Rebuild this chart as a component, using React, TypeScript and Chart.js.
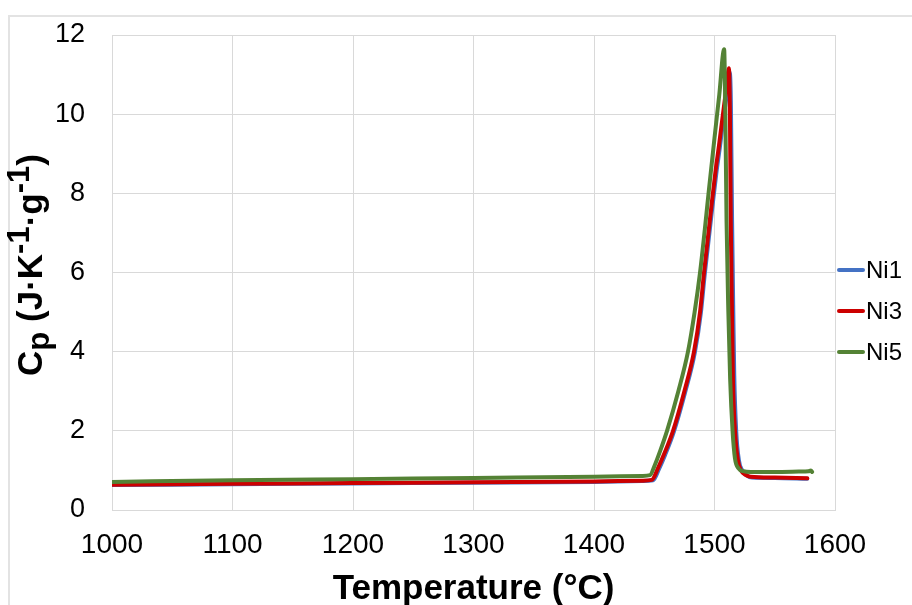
import { useEffect, useRef } from 'react';
import { Chart, registerables } from 'chart.js';

Chart.register(...registerables);

// ---- data ----
const seriesNames = ['Ni1', 'Ni3', 'Ni5'];
const seriesColors = ['#4472C4', '#CC0000', '#548235'];

const xTickValues = [1000, 1100, 1200, 1300, 1400, 1500, 1600];
const yTickValues = [0, 2, 4, 6, 8, 10, 12];

const ni1Temp = [1000, 1100, 1200, 1300, 1400, 1440, 1449, 1454, 1459, 1466.3, 1475.7, 1483.7, 1488.7, 1492, 1498.6, 1501.7, 1504.4, 1507.7, 1510.7, 1512.6, 1513.6, 1514.6, 1515.6, 1516.4, 1518, 1520.3, 1523, 1527, 1531, 1550, 1577];
const ni1Cp = [0.63, 0.65, 0.67, 0.69, 0.71, 0.73, 0.75, 1.04, 1.39, 1.98, 2.98, 3.98, 4.98, 5.98, 7.75, 8.55, 9.15, 9.95, 10.6, 11.05, 10.3, 7.3, 5.0, 3.4, 2.0, 1.25, 1.0, 0.87, 0.82, 0.81, 0.79];

const ni3Temp = [1000, 1100, 1200, 1300, 1400, 1440, 1448, 1453, 1458, 1465.6, 1475, 1483, 1488, 1491.3, 1497.9, 1501, 1503.7, 1507, 1510, 1512, 1512.8, 1513.5, 1514.5, 1515.3, 1517, 1519.5, 1522, 1526, 1530, 1550, 1577];
const ni3Cp = [0.64, 0.66, 0.68, 0.70, 0.72, 0.74, 0.76, 1.05, 1.4, 2.0, 3.0, 4.0, 5.0, 6.0, 7.8, 8.6, 9.2, 10.0, 10.7, 11.16, 10.0, 7.3, 5.0, 3.3, 2.0, 1.25, 1.0, 0.88, 0.84, 0.82, 0.80];

const ni5Temp = [1000, 1100, 1200, 1300, 1400, 1440, 1446.5, 1450, 1455, 1460.6, 1470, 1478, 1483.5, 1488, 1492, 1495.4, 1500, 1504, 1508, 1509, 1510, 1511.5, 1513, 1515, 1517, 1520, 1524, 1530, 1550, 1570, 1578, 1580, 1581];
const ni5Cp = [0.71, 0.75, 0.78, 0.81, 0.84, 0.86, 0.88, 1.1, 1.5, 2.0, 3.0, 4.0, 5.0, 6.0, 7.1, 8.1, 9.4, 10.5, 11.64, 10.0, 7.3, 5.0, 3.3, 2.0, 1.3, 1.05, 0.98, 0.96, 0.96, 0.97, 0.98, 1.0, 0.96];

const xTitle = 'Temperature (°C)';
// y title as runs: [text, kind] kind: n normal, b subscript, p superscript
const yTitleRuns: [string, string][] = [
  ['C', 'n'], ['p', 'b'], [' (J·K', 'n'], ['-1', 'p'], ['·g', 'n'], ['-1', 'p'], [')', 'n'],
];

const FONT = "'Liberation Sans', Arial, Helvetica, sans-serif";

function toPoints(xs: number[], ys: number[]) {
  return xs.map((x, i) => ({ x, y: ys[i] }));
}

const decorPlugin = {
  id: 'decor',
  afterDraw(chart: any) {
    const ctx = chart.ctx as CanvasRenderingContext2D;
    const area = chart.chartArea;
    ctx.save();
    // x title
    ctx.fillStyle = '#000';
    ctx.font = `bold 35px ${FONT}`;
    ctx.textAlign = 'center';
    ctx.textBaseline = 'alphabetic';
    ctx.fillText(xTitle, (area.left + area.right) / 2, 599);

    // y title (rotated, with sub/superscripts)
    const mainSize = 35;
    const smallSize = 31;
    const fontFor = (k: string) => `bold ${k === 'n' ? mainSize : smallSize}px ${FONT}`;
    let total = 0;
    const widths: number[] = [];
    for (const [t, k] of yTitleRuns) {
      ctx.font = fontFor(k);
      const w = ctx.measureText(t).width;
      widths.push(w);
      total += w;
    }
    ctx.save();
    ctx.translate(42, 265);
    ctx.rotate(-Math.PI / 2);
    ctx.textAlign = 'left';
    ctx.textBaseline = 'alphabetic';
    let x = -total / 2;
    yTitleRuns.forEach(([t, k], i) => {
      ctx.font = fontFor(k);
      const dy = k === 'b' ? 7 : k === 'p' ? -13 : 0;
      ctx.fillText(t, x, dy);
      x += widths[i];
    });
    ctx.restore();

    // legend
    const legendY = [270, 311, 352];
    ctx.font = `24px ${FONT}`;
    ctx.textAlign = 'left';
    ctx.textBaseline = 'middle';
    chart.data.datasets.forEach((ds: any) => {
      const idx = seriesNames.indexOf(ds.label);
      const y = legendY[idx];
      ctx.strokeStyle = ds.borderColor;
      ctx.lineWidth = 4;
      ctx.lineCap = 'round';
      ctx.beginPath();
      ctx.moveTo(839, y);
      ctx.lineTo(863, y);
      ctx.stroke();
      ctx.fillStyle = '#000';
      ctx.fillText(ds.label, 866, y + 1);
    });
    ctx.restore();
  },
};

export default function App() {
  const ref = useRef<HTMLCanvasElement | null>(null);
  useEffect(() => {
    if (!ref.current) return;
    const temps = [ni1Temp, ni3Temp, ni5Temp];
    const cps = [ni1Cp, ni3Cp, ni5Cp];
    const chart = new Chart(ref.current, {
      type: 'line',
      data: {
        datasets: seriesNames.map((name, i) => ({
          label: name,
          data: toPoints(temps[i], cps[i]),
          borderColor: seriesColors[i],
          backgroundColor: seriesColors[i],
          borderWidth: 4,
          pointRadius: 0,
          fill: false,
          cubicInterpolationMode: 'monotone' as const,
          borderCapStyle: 'round' as const,
          borderJoinStyle: 'round' as const,
          order: 3 - i,
        })),
      },
      options: {
        animation: false,
        responsive: false,
        maintainAspectRatio: false,
        devicePixelRatio: 1,
        layout: { padding: { left: 0, top: 35, right: 77, bottom: 0 } },
        plugins: {
          legend: { display: false },
          tooltip: { enabled: false },
        },
        scales: {
          x: {
            type: 'linear',
            min: 1000,
            max: 1600,
            afterBuildTicks: (s: any) => { s.ticks = xTickValues.map((v) => ({ value: v })); },
            afterFit: (s: any) => { s.height = 95; s.paddingLeft = 0; s.paddingRight = 0; },
            ticks: { color: '#000', font: { family: FONT, size: 28 }, padding: 18, maxRotation: 0, autoSkip: false, callback: (v: any) => String(v) },
            grid: { color: '#d9d9d9', lineWidth: 1, drawTicks: false },
            border: { display: true, color: '#d9d9d9', width: 1 },
          },
          y: {
            type: 'linear',
            min: 0,
            max: 12,
            afterBuildTicks: (s: any) => { s.ticks = yTickValues.map((v) => ({ value: v })); },
            afterFit: (s: any) => { s.width = 112; s.paddingTop = 0; s.paddingBottom = 0; },
            ticks: { color: '#000', font: { family: FONT, size: 27 }, padding: 27, callback: (v: any) => String(v) },
            grid: { color: '#d9d9d9', lineWidth: 1, drawTicks: false },
            border: { display: true, color: '#d9d9d9', width: 1 },
          },
        },
      },
      plugins: [decorPlugin],
    });
    return () => chart.destroy();
  }, []);

  return (
    <div style={{ position: 'absolute', left: 0, top: 0, width: 912, height: 605, overflow: 'hidden', background: '#fff' }}>
      <div style={{ position: 'absolute', left: 8, top: 15, width: 1000, height: 1000, border: '2px solid #e3e3e3' }} />
      <canvas ref={ref} width={912} height={605} style={{ position: 'absolute', left: 0, top: 0, width: 912, height: 605 }} />
    </div>
  );
}
